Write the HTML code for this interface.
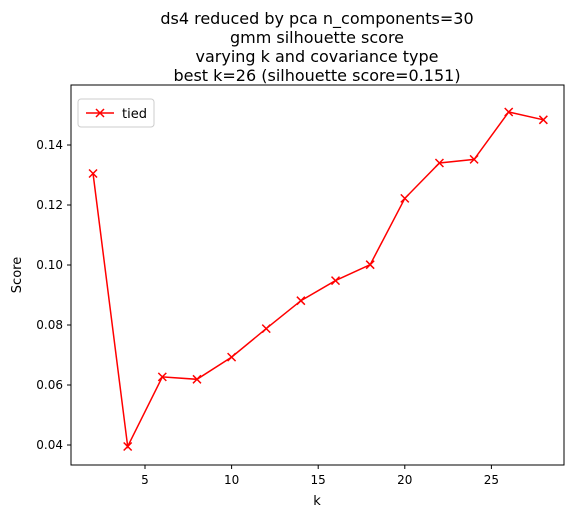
<!DOCTYPE html>
<html><head><meta charset="utf-8"><style>
body{margin:0;background:#fff;font-family:"Liberation Sans","DejaVu Sans",sans-serif}
</style></head><body>
<svg id="chart" width="579" height="517" xmlns="http://www.w3.org/2000/svg" font-family="DejaVu Sans, Liberation Sans, sans-serif">
<g font-size="16" text-anchor="middle" fill="#000">
<text x="317" y="24">ds4 reduced by pca n_components=30</text>
<text x="317" y="43">gmm silhouette score</text>
<text x="317" y="62">varying k and covariance type</text>
<text x="317" y="81">best k=26 (silhouette score=0.151)</text>
</g>
<rect x="71" y="85" width="493" height="380" fill="none" stroke="#000" stroke-width="1"/>
<g id="xt"></g>
<g id="yt"></g>
<text x="317" y="505" font-size="13" text-anchor="middle">k</text>
<text transform="translate(21,275) rotate(-90)" font-size="13" text-anchor="middle">Score</text>
<g id="series"></g>
<g>
<rect x="78" y="99" width="76" height="28" rx="3" fill="#fff" stroke="#ccc"/>
<line x1="86" y1="113" x2="114" y2="113" stroke="red" stroke-width="1.5"/>
<path d="M96,109l8,8M104,109l-8,8" stroke="red" stroke-width="1.5"/>
<text x="122" y="118" font-size="13">tied</text>
</g>
</svg>
<script>
const ks=[2,4,6,8,10,12,14,16,18,20,22,24,26,28];
const scores=[0.1305,0.0395,0.0627,0.0619,0.0693,0.0788,0.0881,0.0948,0.1001,0.1222,0.1340,0.1352,0.1510,0.1484];
const xTicks=[5,10,15,20,25];
const yTicks=[0.04,0.06,0.08,0.10,0.12,0.14];
const NS="http://www.w3.org/2000/svg";
const X=v=>145+(v-5)*17.32;
const Y=v=>445-(v-0.04)*3000;
function mk(t,a,p){const e=document.createElementNS(NS,t);for(const k in a)e.setAttribute(k,a[k]);p.appendChild(e);return e;}
const xt=document.getElementById('xt'),yt=document.getElementById('yt'),s=document.getElementById('series');
xTicks.forEach(v=>{
 const l=mk('line',{x1:X(v),x2:X(v),y1:465,y2:469,stroke:'#000'},xt);
 
 
 const t=mk('text',{x:X(v),y:484,'font-size':12,'text-anchor':'middle'},xt);t.textContent=v;
 
 
});
yTicks.forEach(v=>{
 const l=mk('line',{x1:67,x2:71,y1:Y(v),y2:Y(v),stroke:'#000'},yt);
 
 
 const t=mk('text',{x:63,y:Y(v)+4,'font-size':12,'text-anchor':'end'},yt);t.textContent=v.toFixed(2);
 
 
});
const pl=mk('polyline',{points:ks.map((k,i)=>X(k)+','+Y(scores[i])).join(' '),fill:'none',stroke:'red','stroke-width':1.5},s);


ks.forEach((k,i)=>{
 const x=X(k),y=Y(scores[i]);
 const m=mk('path',{d:`M${x-4},${y-4}l8,8M${x+4},${y-4}l-8,8`,stroke:'red','stroke-width':1.5},s);
 
 
});
</script>
</body></html>
